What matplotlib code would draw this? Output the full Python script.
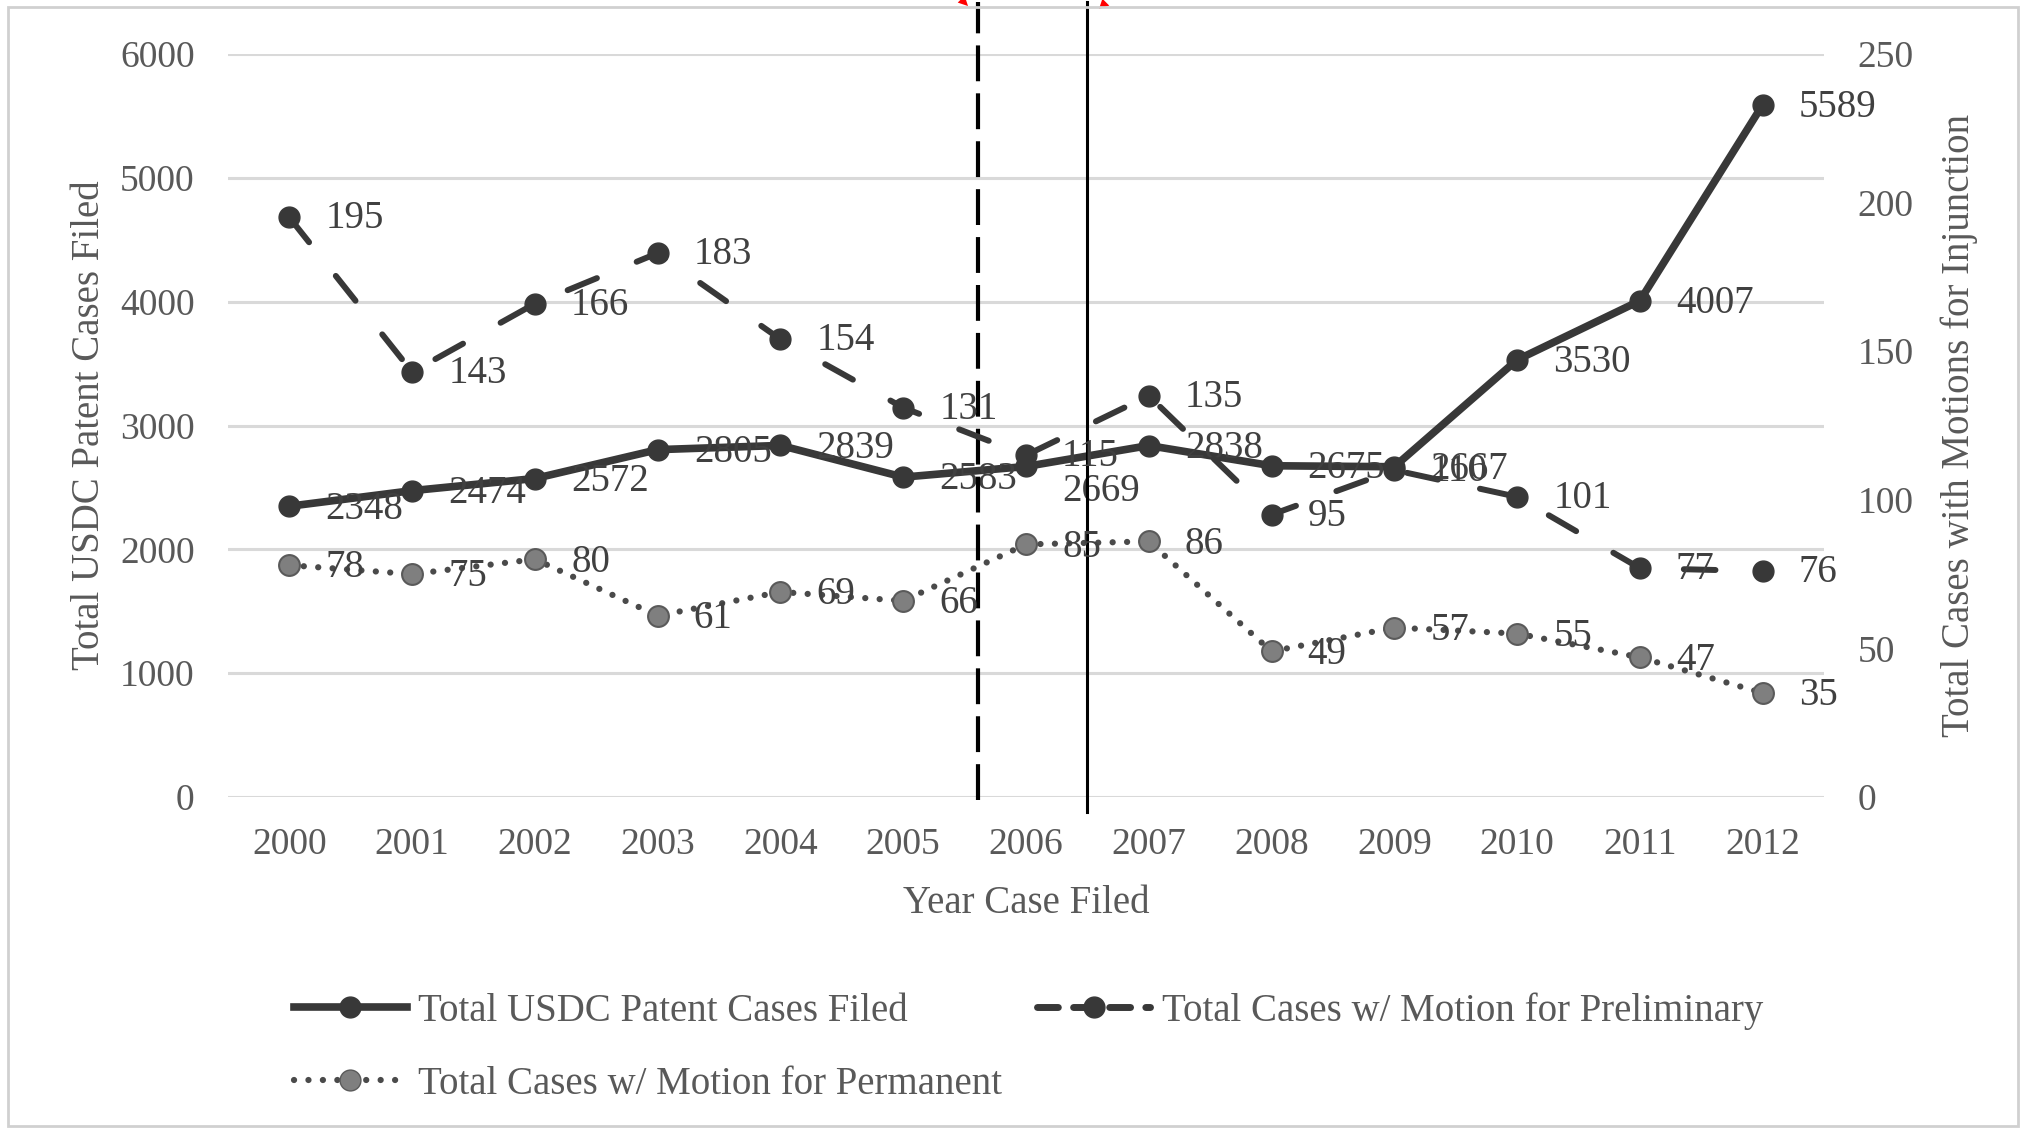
import matplotlib
matplotlib.use('Agg')
import matplotlib.pyplot as plt
from matplotlib.lines import Line2D
from matplotlib.patches import Rectangle

plt.rcParams['font.family'] = ['Liberation Serif', 'DejaVu Serif']

years = ['2000', '2001', '2002', '2003', '2004', '2005', '2006',
         '2007', '2008', '2009', '2010', '2011', '2012']
total_cases = [2348, 2474, 2572, 2805, 2839, 2583, 2669,
               2838, 2675, 2667, 3530, 4007, 5589]
prelim_cases = [195, 143, 166, 183, 154, 131, 115,
                135, 95, 110, 101, 77, 76]
perm_cases = [78, 75, 80, 61, 69, 66, 85,
              86, 49, 57, 55, 47, 35]

# event markers sit between the 2005/2006 and 2006/2007 categories
event_dashed = 5.61
event_solid = 6.50

TEXT = '#595959'
LABEL = '#404040'
DARK = '#383838'
GREY = '#7f7f7f'
DOTS = '#4a4a4a'
FS = 27
FS_BIG = 28

fig = plt.figure(figsize=(20.23, 11.3), dpi=100)
fig.subplots_adjust(left=228 / 2023, right=1824 / 2023,
                    bottom=1 - 797 / 1130, top=1 - 54 / 1130)
ax = fig.add_subplot(111)
ax2 = ax.twinx()

x = list(range(len(years)))

ax.set_xlim(-0.5, len(years) - 0.5)
ax.set_ylim(0, 6000)
ax.set_yticks(range(0, 6001, 1000))
ax2.set_ylim(0, 250)
ax2.set_yticks(range(0, 251, 50))
ax.set_xticks(x)
ax.set_xticklabels(years)

for a in (ax, ax2):
    for s in a.spines.values():
        s.set_visible(False)
    a.tick_params(length=0, labelsize=FS, labelcolor=TEXT)
ax.tick_params(axis='y', pad=24)
ax2.tick_params(axis='y', pad=24)
ax.tick_params(axis='x', pad=22)

ax.grid(axis='y', color='#d9d9d9', lw=2.2)
ax.set_axisbelow(True)

ax.set_ylabel('Total USDC Patent Cases Filed', fontsize=FS_BIG, color=TEXT)
ax.yaxis.set_label_coords(-0.075, 0.5)
ax2.set_ylabel('Total Cases with Motions for Injunction', fontsize=FS_BIG,
               color=TEXT, rotation=90)
ax2.yaxis.set_label_coords(1.073, 0.5)
ax.set_xlabel('Year Case Filed', fontsize=FS_BIG, color=TEXT)
ax.xaxis.set_label_coords(0.5, -0.118)

# series
ax.plot(x, total_cases, color=DARK, lw=5.5, marker='o', ms=15,
        mfc=DARK, mec=DARK, zorder=5, solid_capstyle='round')
ax2.plot(x, prelim_cases, color=DARK, lw=4.3, ls=(0, (5.3, 7.2)),
         dash_capstyle='round', marker='o', ms=15, mfc=DARK, mec=DARK,
         zorder=4)
ax2.plot(x, perm_cases, color=DOTS, lw=4.5, ls=(0, (0.01, 2.3)),
         dash_capstyle='round', marker='o', ms=15, mfc=GREY, mec='#5a5a5a',
         mew=1.5, zorder=3)

# data labels, to the right of each point
total_dy = {6: -18}
for i, v in enumerate(total_cases):
    ax.annotate(str(v), (i, v), xytext=(26, total_dy.get(i, -2)),
                textcoords='offset points', ha='left', va='center',
                fontsize=FS_BIG, color=LABEL, zorder=6)
for i, v in enumerate(prelim_cases):
    ax2.annotate(str(v), (i, v), xytext=(26, -1),
                 textcoords='offset points', ha='left', va='center',
                 fontsize=FS_BIG, color=LABEL, zorder=6)
for i, v in enumerate(perm_cases):
    ax2.annotate(str(v), (i, v), xytext=(26, -2),
                 textcoords='offset points', ha='left', va='center',
                 fontsize=FS_BIG, color=LABEL, zorder=6)

# vertical event lines running above the plot area
ax.plot([event_dashed, event_dashed], [-0.004, 1.07], color='black',
        lw=3, ls=(0, (8.6, 2.9)), transform=ax.get_xaxis_transform(),
        clip_on=False, zorder=7)
ax.plot([event_solid, event_solid], [-0.02, 1.07], color='black',
        lw=2.2, transform=ax.get_xaxis_transform(), clip_on=False, zorder=7)

# small red pointer heads at the top edge
arrow = dict(arrowstyle='-|>,head_width=0.35,head_length=0.7',
             color='#ff0000', lw=0)
ax2.annotate('', xy=(970, 1122), xytext=(950, 1142),
             xycoords='figure pixels', textcoords='figure pixels',
             arrowprops=arrow, annotation_clip=False)
ax2.annotate('', xy=(1097, 1119), xytext=(1118, 1140),
             xycoords='figure pixels', textcoords='figure pixels',
             arrowprops=arrow, annotation_clip=False)

# legend
handles = [
    Line2D([], [], color=DARK, lw=5.5, marker='o', ms=15, mfc=DARK, mec=DARK),
    Line2D([], [], color=DOTS, lw=4.5, ls=(0, (0.01, 2.3)),
           dash_capstyle='round', marker='o', ms=15, mfc=GREY,
           mec='#5a5a5a'),
    Line2D([], [], color=DARK, lw=5, ls=(0, (3, 2.2)),
           dash_capstyle='round', marker='o', ms=15, mfc=DARK, mec=DARK),
]
labels = ['Total USDC Patent Cases Filed',
          'Total Cases w/ Motion for Permanent',
          'Total Cases w/ Motion for Preliminary']
fig.legend(handles, labels, ncol=2, loc='upper left',
           bbox_to_anchor=(294 / 2023, 1 - 992 / 1130), frameon=False,
           fontsize=FS_BIG, labelcolor=TEXT, handlelength=2.9,
           handletextpad=0.3, columnspacing=0.9, labelspacing=0.93,
           borderpad=0, borderaxespad=0)

# outer chart border
fig.patches.append(Rectangle((8 / 2023, 4 / 1130), 2010 / 2023, 1119 / 1130,
                             transform=fig.transFigure, fill=False,
                             edgecolor='#d0d0d0', lw=2))

fig.savefig('out.png', dpi=100)
